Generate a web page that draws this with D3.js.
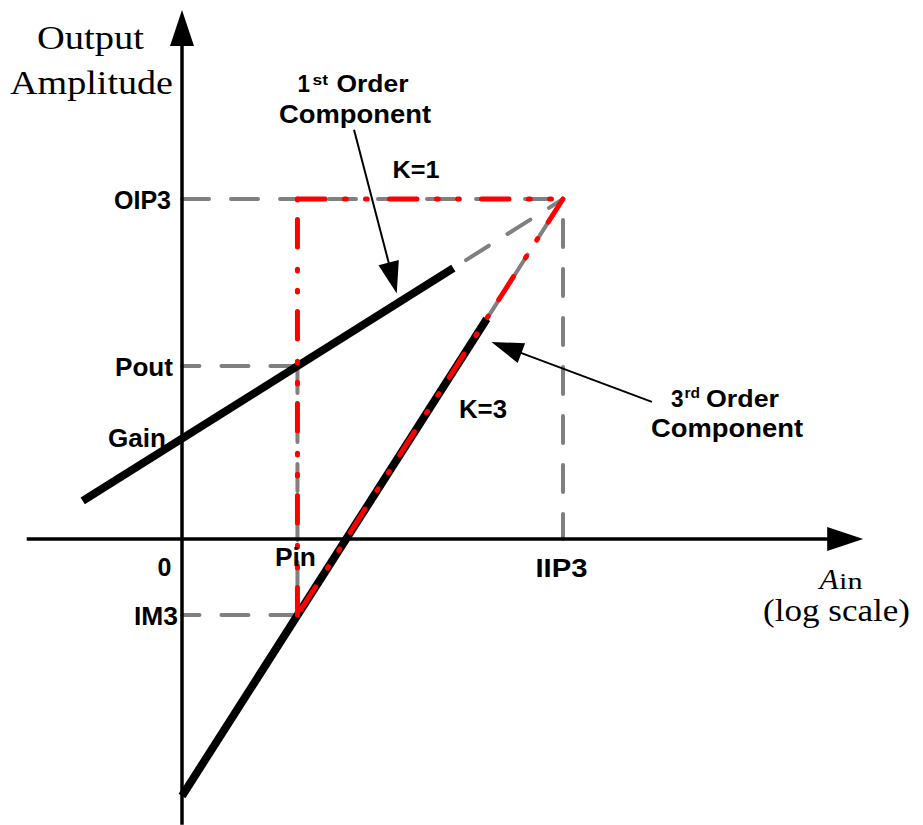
<!DOCTYPE html>
<html>
<head>
<meta charset="utf-8">
<script src="https://cdn.jsdelivr.net/npm/d3@7"></script>
<style>
  html, body { margin: 0; padding: 0; background: #fff; }
  svg { display: block; }
</style>
</head>
<body>
<svg id="chart" width="923" height="825"></svg>
<script>
// Input levels marked on the horizontal axis (relative dB units)
const xTickNames = ["0", "Pin", "IIP3"];
const xTickValues = [0, 10, 33];

// Output levels marked on the vertical axis
const yTickNames = ["OIP3", "Pout", "Gain", "IM3"];
const yTickValues = [29.5, 15.0, 8.7, -6.6];

// Fundamental (K=1) response: drawn part and extrapolation to the intercept
const firstOrderSolid = [[-8.6, 3.3], [23.5, 23.5]];
const firstOrderExtrap = [[24.6, 24.2], [33, 29.5]];

// Third-order (K=3) response: drawn part and extrapolation to the intercept
const thirdOrderSolid = [[0, -22.3], [26.4, 19.1]];
const thirdOrderExtrap = [[26.4, 19.1], [33, 29.5]];

// Callout arrows: [start, tip]
const firstOrderCallout = [[14.9, 35.5], [18.6, 21.3]];
const thirdOrderCallout = [[40.7, 11.9], [26.8, 17.1]];

const W = 923, H = 825;
const SANS = "'Liberation Sans', Arial, Helvetica, sans-serif";
const SERIF = "'Liberation Serif', 'Times New Roman', Times, serif";
const GRAY = "#808080";
const RED = "#ff0000";

const svg = d3.select("#chart");
svg.append("rect").attr("width", W).attr("height", H).attr("fill", "#fff");

const x = d3.scaleLinear().domain([0, 33]).range([182, 563]);
const y = d3.scaleLinear().domain([0, 29.5]).range([539, 199]);

const [oip3, pout, gain, im3] = yTickValues;
const [, pin, iip3] = xTickValues;

const line = d3.line().x(d => x(d[0])).y(d => y(d[1]));

// ---- gray dashed guides and extrapolations ----
const gGuides = svg.append("g")
  .attr("fill", "none")
  .attr("stroke", GRAY)
  .attr("stroke-width", 4)
  .attr("stroke-linecap", "round")
  .attr("stroke-dasharray", "27 22");

const guides = [
  { pts: [[0, oip3], [iip3, oip3]], offset: 0 },
  { pts: [[iip3, oip3], [iip3, 0]], offset: 28 },
  { pts: [[pin, pout], [0, pout]], offset: 0 },
  { pts: [[pin, im3], [0, im3]], offset: 0 },
  { pts: [[pin, pout], [pin, im3]], offset: 0 },
  { pts: firstOrderExtrap, offset: 0 },
  { pts: thirdOrderExtrap, offset: 0 }
];
gGuides.selectAll("path").data(guides).join("path")
  .attr("d", d => line(d.pts))
  .attr("stroke-dashoffset", d => d.offset);

// ---- axes ----
const gAxes = svg.append("g");
const xAxisFrom = -13.45, xAxisTip = 59.0;
const yAxisFrom = -24.8, yAxisTip = 45.9;
const ARROW_LEN = 36, ARROW_HALF = 12;

gAxes.append("line")
  .attr("x1", x(xAxisFrom)).attr("y1", y(0))
  .attr("x2", x(xAxisTip) - ARROW_LEN + 1).attr("y2", y(0))
  .attr("stroke", "#000").attr("stroke-width", 3.5);
gAxes.append("path")
  .attr("d", `M${x(xAxisTip)},${y(0)} L${x(xAxisTip) - ARROW_LEN},${y(0) - ARROW_HALF} L${x(xAxisTip) - ARROW_LEN},${y(0) + ARROW_HALF} Z`)
  .attr("fill", "#000");

gAxes.append("line")
  .attr("x1", x(0)).attr("y1", y(yAxisFrom))
  .attr("x2", x(0)).attr("y2", y(yAxisTip) + ARROW_LEN - 1)
  .attr("stroke", "#000").attr("stroke-width", 3.5);
gAxes.append("path")
  .attr("d", `M${x(0)},${y(yAxisTip)} L${x(0) - ARROW_HALF},${y(yAxisTip) + ARROW_LEN} L${x(0) + ARROW_HALF},${y(yAxisTip) + ARROW_LEN} Z`)
  .attr("fill", "#000");

// ---- responses ----
svg.append("g")
  .attr("fill", "none").attr("stroke", "#000").attr("stroke-width", 8)
  .selectAll("path").data([firstOrderSolid, thirdOrderSolid]).join("path")
  .attr("d", line);

// ---- red dash-dot triangle linking Pin, IM3, OIP3 and IIP3 ----
const triangle = [
  [[pin, oip3], [iip3, oip3]],
  [[iip3, oip3], [pin, im3]],
  [[pin, im3], [pin, oip3]]
];
svg.append("g")
  .attr("fill", "none").attr("stroke", RED).attr("stroke-width", 5)
  .attr("stroke-linecap", "round")
  .attr("stroke-dasharray", "27.5 19.5 1.8 19.2 1.8 22.2")
  .selectAll("path").data(triangle).join("path")
  .attr("d", line);

// ---- callout arrows ----
function callout(pts) {
  const [s, t] = pts.map(p => [x(p[0]), y(p[1])]);
  const dx = t[0] - s[0], dy = t[1] - s[1];
  const len = Math.hypot(dx, dy);
  const ux = dx / len, uy = dy / len;
  const headLen = 32, headHalf = 10.5;
  const bx = t[0] - ux * headLen, by = t[1] - uy * headLen;
  const g = svg.append("g");
  g.append("line")
    .attr("x1", s[0]).attr("y1", s[1]).attr("x2", bx + ux * 2).attr("y2", by + uy * 2)
    .attr("stroke", "#000").attr("stroke-width", 2);
  g.append("path")
    .attr("d", `M${t[0]},${t[1]} L${bx - uy * headHalf},${by + ux * headHalf} L${bx + uy * headHalf},${by - ux * headHalf} Z`)
    .attr("fill", "#000");
}
callout(firstOrderCallout);
callout(thirdOrderCallout);

// ---- text ----
function label(txt, px, py, o) {
  const t = svg.append("text")
    .attr("x", px).attr("y", py)
    .attr("font-family", o.family || SANS)
    .attr("font-size", o.size)
    .attr("font-weight", o.weight || "bold")
    .attr("font-style", o.style || "normal")
    .attr("text-anchor", o.anchor || "start")
    .attr("fill", "#000")
    .text(txt);
  if (o.width) t.attr("textLength", o.width).attr("lengthAdjust", "spacingAndGlyphs");
  return t;
}

// vertical-axis marks
const yLabelStyle = [
  { dx: -11, dy: 10, size: 25, width: 57 },
  { dx: -9, dy: 10, size: 25, width: 58 },
  { dx: -16, dy: 8, size: 25, width: 58 },
  { dx: -4, dy: 10, size: 25, width: 44 }
];
yTickNames.forEach((name, i) => {
  const s = yLabelStyle[i];
  label(name, x(0) + s.dx, y(yTickValues[i]) + s.dy, { size: s.size, width: s.width, anchor: "end" });
});

// horizontal-axis marks
const xLabelStyle = [
  { dx: -17.5, dy: 37, size: 25, width: 0 },
  { dx: -2, dy: 27, size: 25, width: 41 },
  { dx: -1.5, dy: 38, size: 25, width: 52 }
];
xTickNames.forEach((name, i) => {
  const s = xLabelStyle[i];
  label(name, x(xTickValues[i]) + s.dx, y(0) + s.dy, { size: s.size, width: s.width, anchor: "middle" });
});

// axis titles
label("Output", 90.5, 49, { family: SERIF, weight: "normal", size: 33, width: 107, anchor: "middle" });
label("Amplitude", 91.5, 94, { family: SERIF, weight: "normal", size: 33, width: 163, anchor: "middle" });
label("A", 819.5, 589, { family: SERIF, weight: "normal", style: "italic", size: 30, width: 19 });
label("in", 839, 589, { family: SERIF, weight: "normal", size: 24, width: 23.5 });
label("(log scale)", 763, 621, { family: SERIF, weight: "normal", size: 32, width: 147 });

// component captions
label("1", 297.5, 92, { size: 24, width: 12.5 });
label("st", 312.5, 85, { size: 15, width: 15.5 });
label("Order", 336.5, 92, { size: 24, width: 72 });
label("Component", 279, 123, { size: 25, width: 152 });
label("K=1", 392.5, 177.5, { size: 24, width: 47 });

label("3", 671, 407, { size: 24, width: 12.5 });
label("rd", 684.5, 398, { size: 15, width: 15.5 });
label("Order", 706, 407, { size: 24, width: 73 });
label("Component", 651, 437, { size: 25, width: 152 });
label("K=3", 459, 418, { size: 25, width: 48 });
</script>
</body>
</html>
